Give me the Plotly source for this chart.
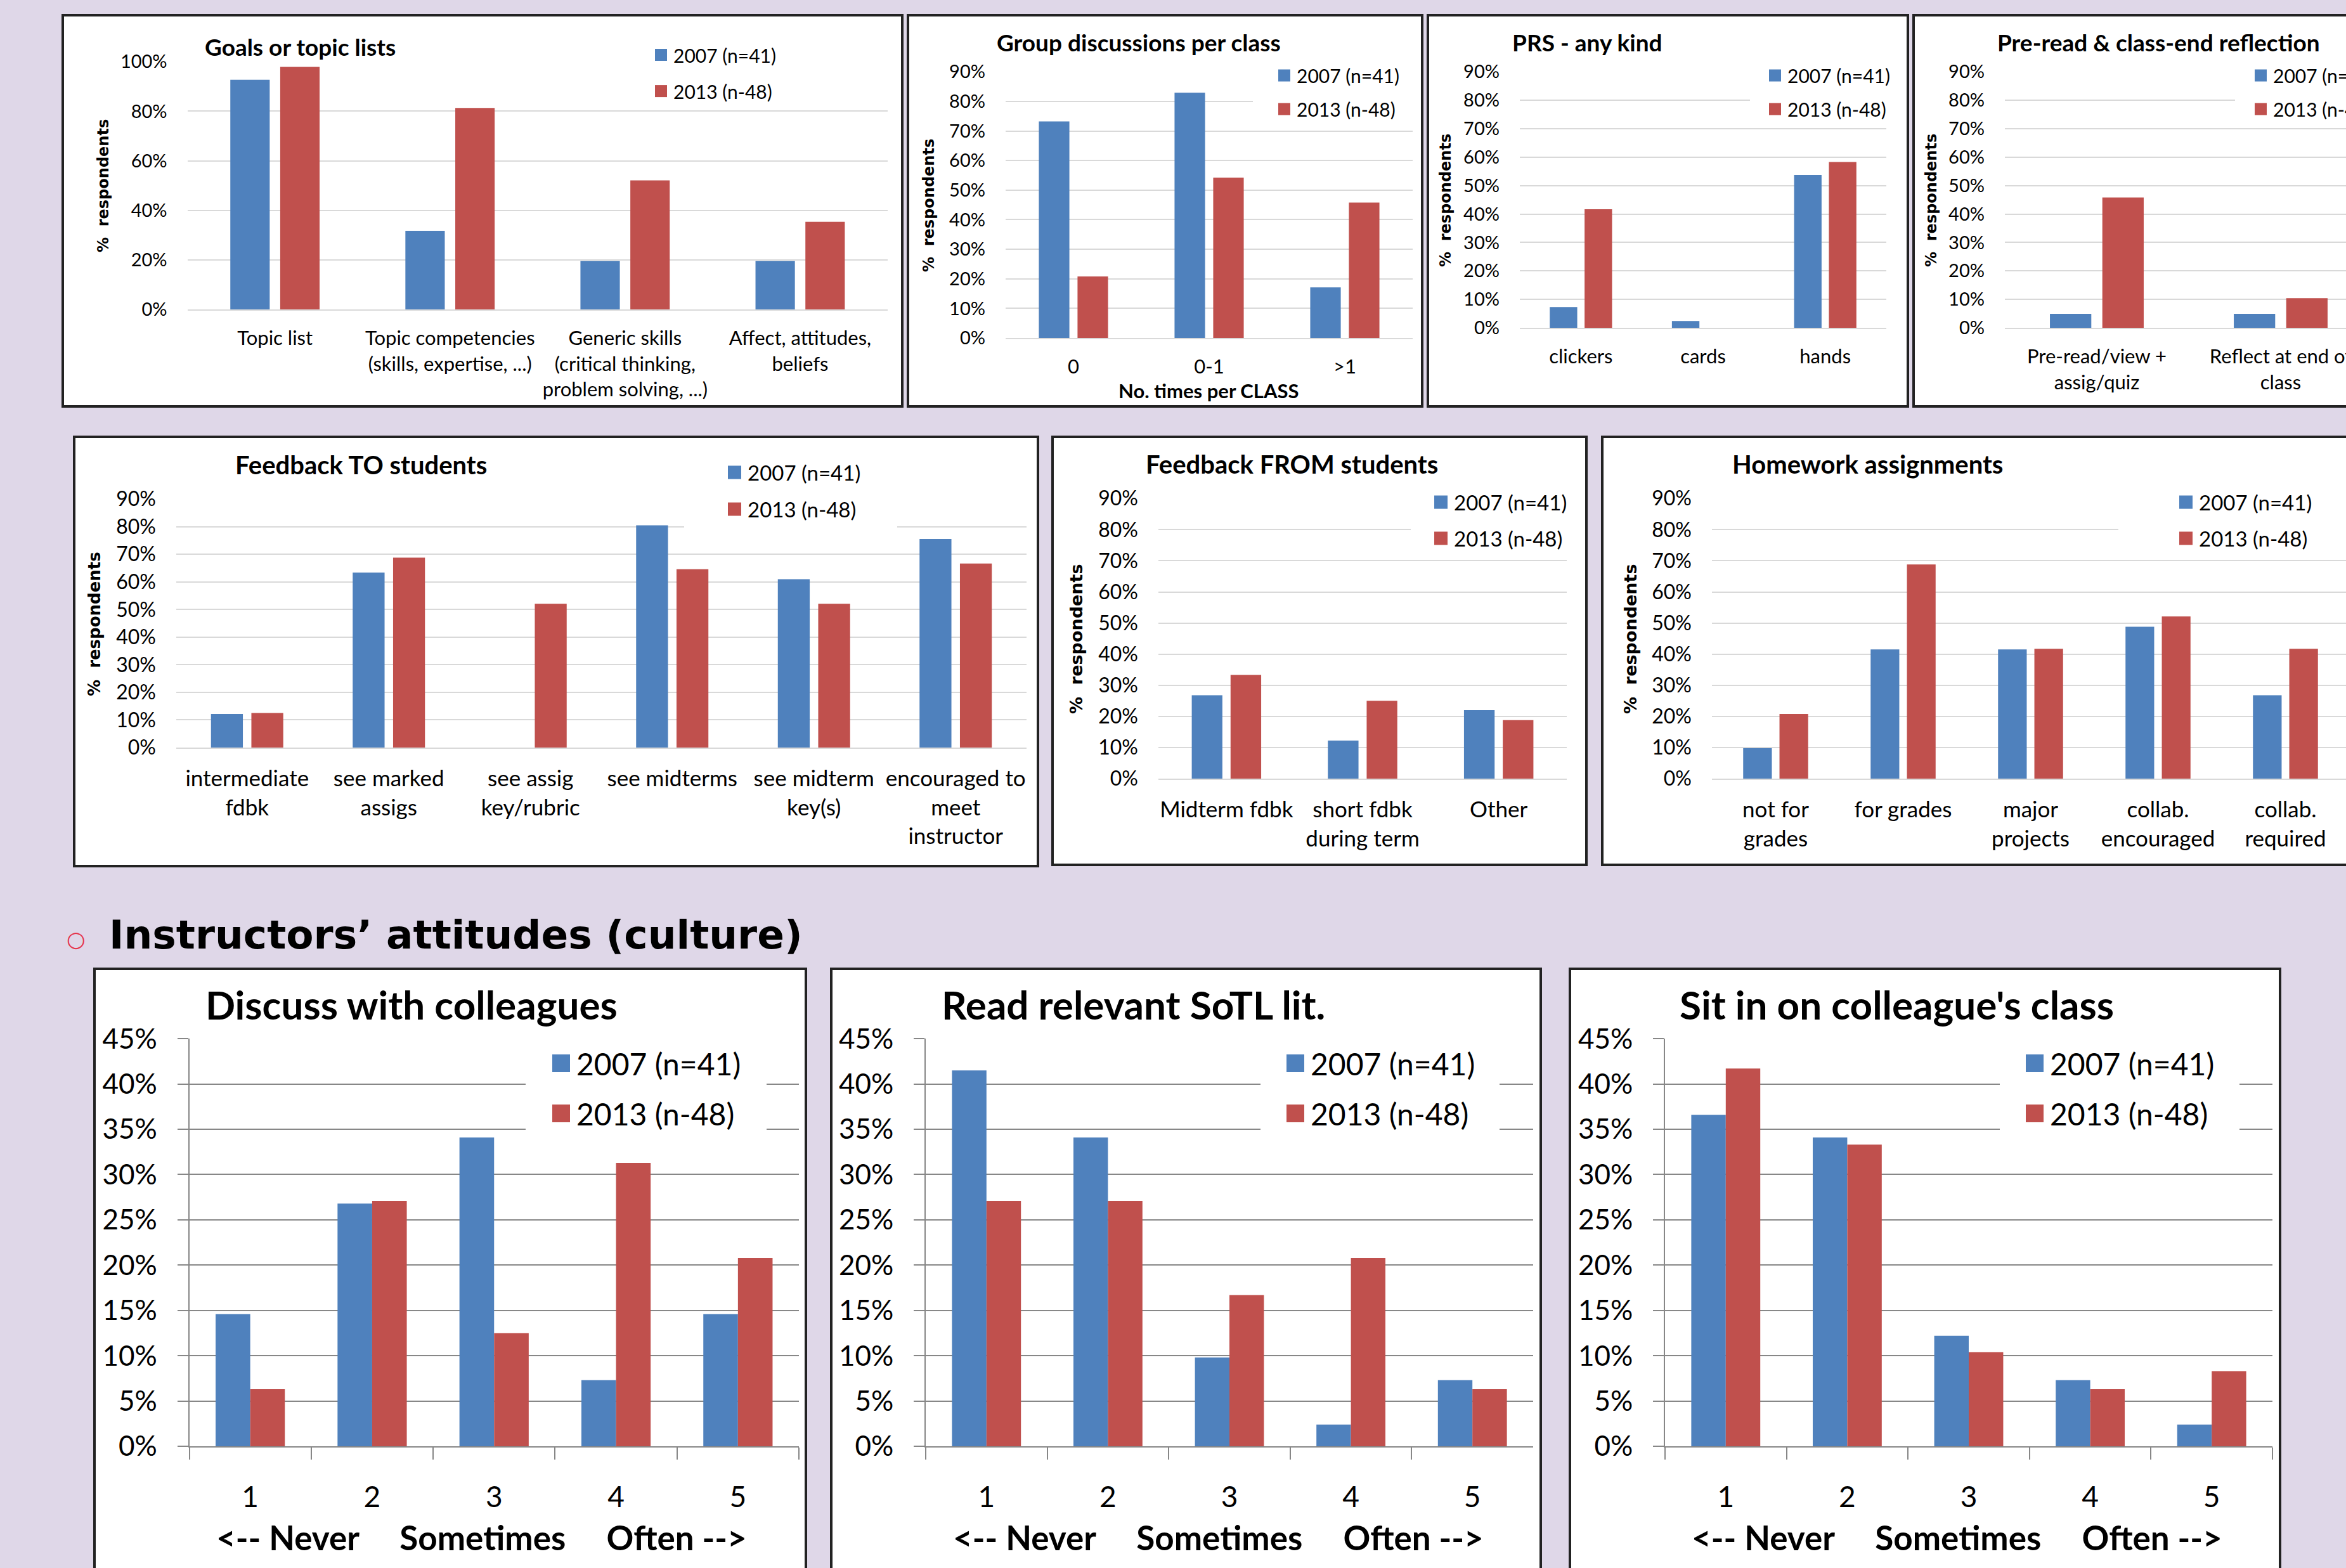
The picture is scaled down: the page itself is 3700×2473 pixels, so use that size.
import plotly.graph_objects as go

W, H = 3700, 2473

# ---- data -------------------------------------------------------------
SERIES = ["2007 (n=41)", "2013 (n-48)"]
SERIES_COLORS = ["#4F81BD", "#C0504D"]

goals_categories = ["Topic list", "Topic competencies\n(skills, expertise, ...)",
                    "Generic skills\n(critical thinking,\nproblem solving, ...)",
                    "Affect, attitudes,\nbeliefs"]
goals_2007 = [92.7, 31.7, 19.5, 19.5]
goals_2013 = [97.9, 81.3, 52.1, 35.4]

group_categories = ["0", "0-1", "&gt;1"]
group_2007 = [73.2, 82.9, 17.1]
group_2013 = [20.8, 54.2, 45.8]

prs_categories = ["clickers", "cards", "hands"]
prs_2007 = [7.3, 2.4, 53.7]
prs_2013 = [41.7, 0.0, 58.3]

preread_categories = ["Pre-read/view +\nassig/quiz", "Reflect at end of\nclass"]
preread_2007 = [4.9, 4.9]
preread_2013 = [45.8, 10.4]

fb_to_categories = ["intermediate\nfdbk", "see marked\nassigs", "see assig\nkey/rubric",
                    "see midterms", "see midterm\nkey(s)", "encouraged to\nmeet\ninstructor"]
fb_to_2007 = [12.2, 63.4, 0.0, 80.5, 61.0, 75.6]
fb_to_2013 = [12.5, 68.8, 52.1, 64.6, 52.1, 66.7]

fb_from_categories = ["Midterm fdbk", "short fdbk\nduring term", "Other"]
fb_from_2007 = [26.8, 12.2, 22.0]
fb_from_2013 = [33.3, 25.0, 18.8]

hw_categories = ["not for\ngrades", "for grades", "major\nprojects",
                 "collab.\nencouraged", "collab.\nrequired"]
hw_2007 = [9.8, 41.5, 41.5, 48.8, 26.8]
hw_2013 = [20.8, 68.8, 41.7, 52.1, 41.7]

scale_categories = ["1", "2", "3", "4", "5"]
discuss_2007 = [14.6, 26.8, 34.1, 7.3, 14.6]
discuss_2013 = [6.3, 27.1, 12.5, 31.3, 20.8]
sotl_2007 = [41.5, 34.1, 9.8, 2.4, 7.3]
sotl_2013 = [27.1, 27.1, 16.7, 20.8, 6.3]
sitin_2007 = [36.6, 34.1, 12.2, 7.3, 2.4]
sitin_2013 = [41.7, 33.3, 10.4, 6.3, 8.3]

# ---- styling -----------------------------------------------------------
BG = "#DFD7E8"
FONT = "Lato, Carlito, Calibri, sans-serif"
WIDE_BOLD = "DejaVu Sans, Verdana, sans-serif"
GRID_LIGHT = "#D9D9D9"
GRID_DARK = "#878787"
Y_TITLE = "% \u00a0respondents"
SP = "\u00a0" * 5
SCALE_TITLE = f"&lt;-- Never{SP}Sometimes{SP}Often --&gt;"

# positions are in page pixels: box, plot area (x0, top, x1, baseline)
PANELS = [
    dict(title="Goals or topic lists", cats=goals_categories, vals=(goals_2007, goals_2013),
         box=(99, 24, 1423, 641), plot=(295.6, 97, 1400, 488), ymax=100, dtick=20, dark=False,
         tick=29, cat=31, leg=30, tsize=37, tpos=(321, 74), ytpos=(163, 293), ytsize=24,
         lx=1033, lys=(86.5, 143.6), sw=19, lbg=(963, 60, 1285, 165)),
    dict(title="Group discussions per class", cats=group_categories, vals=(group_2007, group_2013),
         box=(1432, 24, 2243, 641), plot=(1586, 113, 2228, 533), ymax=90, dtick=10, dark=False,
         tick=29, cat=31, leg=30, tsize=37, tpos=(1570, 66), ytpos=(1465, 324), ytsize=24,
         lx=2016, lys=(119, 172), sw=19, lbg=(1976, 100, 2230, 185),
         xtitle="No. times per CLASS", xtpos=(1907, 616), xtsize=31),
    dict(title="PRS - any kind", cats=prs_categories, vals=(prs_2007, prs_2013),
         box=(2252, 24, 3009, 641), plot=(2397, 113, 2975, 517), ymax=90, dtick=10, dark=False,
         tick=29, cat=31, leg=30, tsize=37, tpos=(2383, 66), ytpos=(2280, 316), ytsize=24,
         lx=2790, lys=(119, 172), sw=19, lbg=(2760, 100, 2976, 185)),
    dict(title="Pre-read &amp; class-end reflection", cats=preread_categories,
         vals=(preread_2007, preread_2013),
         box=(3018, 24, 3730, 641), plot=(3162, 113, 3742, 517), ymax=90, dtick=10, dark=False,
         tick=29, cat=31, leg=30, tsize=37, tpos=(3148, 66), ytpos=(3046, 316), ytsize=24,
         lx=3556, lys=(119, 172), sw=19, lbg=(3525, 100, 3730, 185)),
    dict(title="Feedback TO students", cats=fb_to_categories, vals=(fb_to_2007, fb_to_2013),
         box=(117, 689, 1637, 1366), plot=(278, 787, 1619, 1179), ymax=90, dtick=10, dark=False,
         tick=32, cat=35, leg=33, tsize=40, tpos=(369, 733), ytpos=(149, 984), ytsize=26,
         lx=1148, lys=(745, 803), sw=21, lbg=(1079, 770, 1415, 850)),
    dict(title="Feedback FROM students", cats=fb_from_categories, vals=(fb_from_2007, fb_from_2013),
         box=(1660, 689, 2502, 1364), plot=(1827, 786, 2471, 1228), ymax=90, dtick=10, dark=False,
         tick=32, cat=35, leg=33, tsize=40, tpos=(1805, 732), ytpos=(1697, 1008), ytsize=27,
         lx=2262, lys=(792, 849), sw=21, lbg=(2225, 770, 2475, 860)),
    dict(title="Homework assignments", cats=hw_categories, vals=(hw_2007, hw_2013),
         box=(2527, 689, 3730, 1364), plot=(2700, 786, 3705, 1228), ymax=90, dtick=10, dark=False,
         tick=32, cat=35, leg=33, tsize=40, tpos=(2730, 732), ytpos=(2571, 1008), ytsize=27,
         lx=3437, lys=(792, 849), sw=21, lbg=(3341, 770, 3730, 860)),
    dict(title="Discuss with colleagues", cats=scale_categories, vals=(discuss_2007, discuss_2013),
         box=(149, 1528, 1271, 2495), plot=(298.5, 1637.5, 1260, 2281), ymax=45, dtick=5, dark=True,
         tick=44, cat=46, leg=48, tsize=62, tpos=(322, 1584),
         lx=871, lys=(1677, 1756), sw=28, lbg=(829, 1625, 1209, 1800),
         xtitle=SCALE_TITLE, xtpos=(759, 2424), xtsize=53),
    dict(title="Read relevant SoTL lit.", cats=scale_categories, vals=(sotl_2007, sotl_2013),
         box=(1311, 1528, 2430, 2495), plot=(1460, 1637.5, 2418, 2281), ymax=45, dtick=5, dark=True,
         tick=44, cat=46, leg=48, tsize=62, tpos=(1483, 1584),
         lx=2029, lys=(1677, 1756), sw=28, lbg=(1988, 1625, 2365, 1800),
         xtitle=SCALE_TITLE, xtpos=(1921, 2424), xtsize=53),
    dict(title="Sit in on colleague's class", cats=scale_categories, vals=(sitin_2007, sitin_2013),
         box=(2476, 1528, 3596, 2495), plot=(2626, 1637.5, 3584, 2281), ymax=45, dtick=5, dark=True,
         tick=44, cat=46, leg=48, tsize=62, tpos=(2647, 1584),
         lx=3195, lys=(1677, 1756), sw=28, lbg=(3154, 1625, 3532, 1800),
         xtitle=SCALE_TITLE, xtpos=(3086, 2424), xtsize=53),
]


def fx(x):
    return x / W


def fy(y):
    return 1 - y / H


fig = go.Figure()
shapes = []
annotations = []
layout_axes = {}

for i, p in enumerate(PANELS, start=1):
    xref = "x" if i == 1 else f"x{i}"
    yref = "y" if i == 1 else f"y{i}"
    xkey = "xaxis" if i == 1 else f"xaxis{i}"
    ykey = "yaxis" if i == 1 else f"yaxis{i}"
    cats = [c.replace("\n", "<br>") for c in p["cats"]]
    n = len(cats)
    x0, ytop, x1, ybase = p["plot"]
    dark = p["dark"]

    # panel frame
    bx0, by0, bx1, by1 = p["box"]
    shapes.append(dict(type="rect", xref="paper", yref="paper", layer="below",
                       x0=fx(bx0), x1=fx(bx1), y0=fy(by1), y1=fy(by0),
                       fillcolor="white", line=dict(color="#222222", width=4)))

    # bars
    bw = 0.284 if dark else 0.225
    gap = 0.0 if dark else 0.06
    offsets = [-gap / 2 - bw, gap / 2]
    for s in range(2):
        fig.add_trace(go.Bar(x=cats, y=p["vals"][s], name=SERIES[s],
                             marker=dict(color=SERIES_COLORS[s], line=dict(width=0)),
                             width=bw, offset=offsets[s], xaxis=xref, yaxis=yref,
                             showlegend=False, hoverinfo="x+y+name"))

    x1c = min(x1, W)
    xhi = -0.5 + n * (x1c - x0) / (x1 - x0)
    gcol = GRID_DARK if dark else GRID_LIGHT
    yticks = list(range(0, p["ymax"] + 1, p["dtick"]))
    layout_axes[xkey] = dict(
        domain=[fx(x0), fx(x1c)], anchor=yref, type="category",
        categoryorder="array", categoryarray=cats, range=[-0.5, xhi],
        showgrid=False, zeroline=False, showline=True, linecolor=gcol, linewidth=2,
        ticks="outside" if dark else "", ticklen=19, tickwidth=2, tickcolor=gcol,
        tickson="boundaries" if dark else "labels",
        tickfont=dict(family=FONT, size=p["cat"], color="black"),
        ticklabelstandoff=39 if dark else 17, automargin=False, fixedrange=True)
    layout_axes[ykey] = dict(
        domain=[fy(ybase), fy(ytop)], anchor=xref, range=[0, p["ymax"] + 0.05],
        tickmode="array", tickvals=yticks, ticktext=[f"{v}%" for v in yticks],
        showgrid=True, gridcolor=gcol, gridwidth=2, zeroline=False,
        showline=dark, linecolor=gcol, linewidth=2,
        ticks="outside" if dark else "", ticklen=17, tickwidth=2, tickcolor=gcol,
        tickfont=dict(family=FONT, size=p["tick"], color="black"),
        ticklabelstandoff=23 if dark else 31, automargin=False, fixedrange=True)

    # chart title
    tx, ty = p["tpos"]
    annotations.append(dict(text=f"<b>{p['title']}</b>", x=fx(tx), y=fy(ty), xref="paper",
                            yref="paper", xanchor="left", yanchor="middle", showarrow=False,
                            font=dict(family=FONT, size=p["tsize"], color="black")))
    # y-axis title
    if "ytpos" in p:
        ax, ay = p["ytpos"]
        annotations.append(dict(text=f"<b>{Y_TITLE}</b>", x=fx(ax), y=fy(ay), xref="paper",
                                yref="paper", xanchor="center", yanchor="middle",
                                textangle=-90, showarrow=False,
                                font=dict(family=WIDE_BOLD, size=p["ytsize"], color="black")))
    # x-axis title
    if "xtitle" in p:
        ax, ay = p["xtpos"]
        annotations.append(dict(text=f"<b>{p['xtitle']}</b>", x=fx(ax), y=fy(ay), xref="paper",
                                yref="paper", xanchor="center", yanchor="middle",
                                showarrow=False,
                                font=dict(family=FONT, size=p["xtsize"], color="black")))

    # legend: white backing that breaks the gridlines, then swatches and labels
    lb = p["lbg"]
    shapes.append(dict(type="rect", xref="paper", yref="paper", layer="above",
                       x0=fx(lb[0]), x1=fx(lb[2]), y0=fy(lb[3]), y1=fy(lb[1]),
                       fillcolor="white", line=dict(width=0)))
    sw = p["sw"]
    for s in range(2):
        cy = p["lys"][s]
        shapes.append(dict(type="rect", xref="paper", yref="paper", layer="above",
                           x0=fx(p["lx"]), x1=fx(p["lx"] + sw),
                           y0=fy(cy + sw / 2), y1=fy(cy - sw / 2),
                           fillcolor=SERIES_COLORS[s], line=dict(width=0)))
        annotations.append(dict(text=SERIES[s], x=fx(p["lx"] + sw + 8), y=fy(cy),
                                xref="paper", yref="paper", xanchor="left", yanchor="middle",
                                showarrow=False,
                                font=dict(family=FONT, size=p["leg"], color="black")))

# section heading
annotations.append(dict(text="\u25CB", x=fx(120), y=fy(1481), xref="paper", yref="paper",
                        xanchor="center", yanchor="middle", showarrow=False,
                        font=dict(family="DejaVu Sans", size=34, color="#E5334B")))
annotations.append(dict(text="<b>Instructors\u2019 attitudes (culture)</b>", x=fx(170), y=fy(1475),
                        xref="paper", yref="paper", xanchor="left", yanchor="middle",
                        showarrow=False,
                        font=dict(family=WIDE_BOLD, size=63, color="black")))

fig.update_layout(width=W, height=H, margin=dict(l=0, r=0, t=0, b=0),
                  paper_bgcolor=BG, plot_bgcolor="rgba(0,0,0,0)",
                  barmode="overlay", showlegend=False,
                  shapes=shapes, annotations=annotations, **layout_axes)

fig.write_html("out.html")
